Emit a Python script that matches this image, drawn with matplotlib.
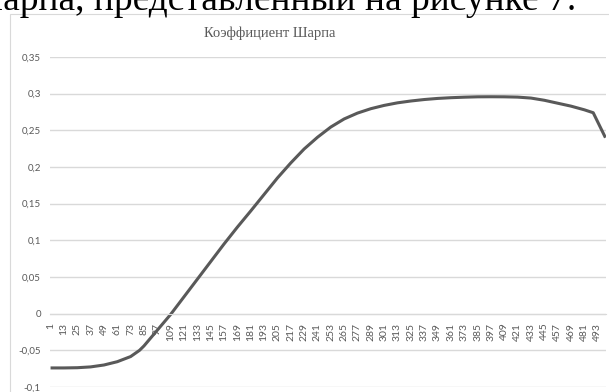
import numpy as np
import matplotlib.pyplot as plt
from matplotlib.patches import Rectangle

# Коэффициент Шарпа
cats = [1, 13, 25, 37, 49, 61, 73, 81, 85, 97, 109, 121, 133, 145, 157, 169,
        181, 193, 205, 217, 229, 241, 253, 265, 277, 289, 301, 313, 325, 337,
        349, 361, 373, 385, 397, 409, 421, 433, 445, 457, 469, 481, 489, 500]
sharpe = [-0.0740, -0.0740, -0.0737, -0.0726, -0.0700, -0.0655, -0.0585, -0.0500,
          -0.0440, -0.0225, -0.0010, 0.0230, 0.0470, 0.0710, 0.0950, 0.1180,
          0.1400, 0.1625, 0.1850, 0.2055, 0.2245, 0.2405, 0.2545, 0.2655,
          0.2735, 0.2795, 0.2840, 0.2875, 0.2900, 0.2920, 0.2935, 0.2945,
          0.2952, 0.2957, 0.2958, 0.2957, 0.2953, 0.2940, 0.2910, 0.2870,
          0.2830, 0.2780, 0.2740, 0.2400]
xtick_labels = list(range(1, 494, 12))
yticks = [-0.1, -0.05, 0, 0.05, 0.1, 0.15, 0.2, 0.25, 0.3, 0.35]

grau = '#595959'
plt.rcParams['font.family'] = ['Lato', 'DejaVu Sans']

fig = plt.figure(figsize=(6.09, 3.92), dpi=100)
ax = fig.add_axes([50/609, 1-387/392, 556/609, 330/392])

# Dokumenttext oben (abgeschnitten) und Diagrammrahmen
fig.text(576/609, 1-10/392, 'Шарпа, представленный на рисунке 7.', ha='right', va='baseline',
         fontsize=27, family='Liberation Serif', color='black')
fig.patches.append(Rectangle((10/609, -0.1), 1.2, 1-14/392+0.1, transform=fig.transFigure,
                             fill=False, edgecolor='#d9d9d9', lw=0.8))

# Achse bei 0 zuerst setzen (sonst werden Tick-Labels zurueckgesetzt)
ax.spines['bottom'].set_position(('data', 0))
ax.spines['bottom'].set_color('#d9d9d9')
for s in ['top', 'right', 'left']:
    ax.spines[s].set_visible(False)

ax.plot(cats, sharpe, color=grau, lw=2.2, solid_capstyle='butt')

ax.set_xlim(0.5, 500.5)
ax.set_ylim(-0.1, 0.35)
ax.set_yticks(yticks)
ax.set_yticklabels([('%g' % v).replace('.', ',') for v in yticks])
ax.yaxis.grid(True, color='#d9d9d9', lw=1)
ax.set_axisbelow(True)
ax.tick_params(axis='y', length=0, pad=6.5, labelsize=7, labelcolor=grau)

ax.set_xticks(xtick_labels)
ax.set_xticklabels([str(v) for v in xtick_labels])
ax.tick_params(axis='x', length=0, pad=6.5, labelsize=7.5, labelcolor=grau, labelrotation=90)
ax.patch.set_alpha(0)

fig.text(270/609, 1-33/392, 'Коэффициент Шарпа', ha='center', va='center',
         fontsize=10.5, family='Liberation Serif', color=grau)

fig.savefig('out.png', dpi=100)
